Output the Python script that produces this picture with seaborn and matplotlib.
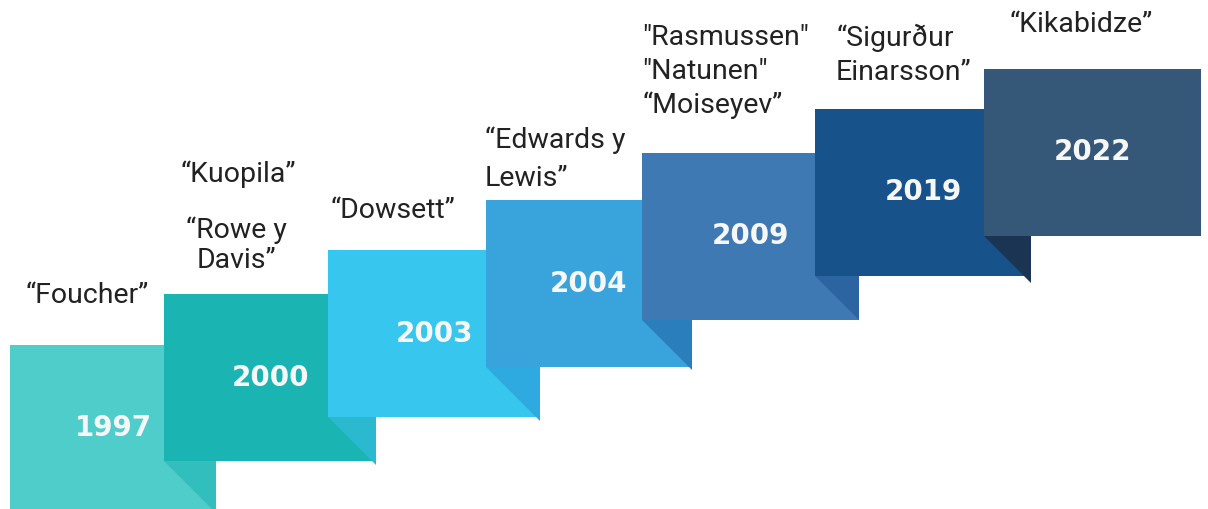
import matplotlib
matplotlib.use("Agg")
import matplotlib.pyplot as plt
import seaborn as sns

# timeline data
years = ["1997", "2000", "2003", "2004", "2009", "2019", "2022"]
name_labels = ["“Foucher”", "“Kuopila”", "“Rowe y\nDavis”", "“Dowsett”",
               "“Edwards y\nLewis”", "\"Rasmussen\"\n\"Natunen\"\n“Moiseyev”",
               "“Sigurður\nEinarsson”", "“Kikabidze”"]

# staircase geometry (pixels, y downwards)
box_left = [10, 164, 328, 486, 642, 815, 984]
box_right = [216, 376, 540, 692, 859, 1031, 1201]
box_top = [345, 294, 250, 200, 153, 109, 69]
box_h = 167

box_colors = ["#4fcdca", "#1ab4b2", "#37c7ee", "#39a3db", "#3f79b3", "#17538a", "#355878"]
fold_colors = ["#33bebe", "#2bb9cf", "#2faae0", "#2a7ebb", "#2c64a1", "#1b3453"]

# name label layout: anchor x, first baseline, line step, alignment
name_x = [87, 238, 236, 393, 485, 642, 836, 1081]
name_y = [303, 182, 238, 218, 148, 45, 46, 32]
name_step = [0, 0, 30, 0, 38, 34, 34, 0]
name_ha = ["center", "center", "center", "center", "left", "left", "left", "center"]

sns.set_theme(style="white")
plt.rcParams['font.family'] = ['Roboto', 'DejaVu Sans']

fig = plt.figure(figsize=(12.08, 5.09), dpi=100)
ax = fig.add_axes([0, 0, 1, 1])
ax.set_xlim(0, 1208)
ax.set_ylim(509, 0)
ax.axis("off")

for i, yr in enumerate(years):
    w = box_right[i] - box_left[i]
    ax.bar(box_left[i], box_h, width=w, bottom=box_top[i], align="edge",
           color=box_colors[i], linewidth=0, zorder=2 * i)
    # fold shadow cast by the next step
    if i + 1 < len(years):
        nx = box_left[i + 1]
        nb = box_top[i + 1] + box_h
        r = box_right[i]
        ax.fill([nx, r, r], [nb, nb, nb + (r - nx)], color=fold_colors[i],
                linewidth=0, zorder=2 * i + 1)
    ax.text((box_left[i] + box_right[i]) / 2, box_top[i] + box_h / 2, yr,
            ha="center", va="center", color="#f7f7f7", fontsize=20,
            fontweight="bold", family="DejaVu Sans", zorder=2 * i + 0.5)

for lab, x, y, step, ha in zip(name_labels, name_x, name_y, name_step, name_ha):
    for k, line in enumerate(lab.split("\n")):
        ax.text(x, y + k * step, line, ha=ha, va="baseline", fontsize=20.5,
                color="#222222", zorder=20)

plt.savefig("out.png", dpi=100, facecolor="white")
